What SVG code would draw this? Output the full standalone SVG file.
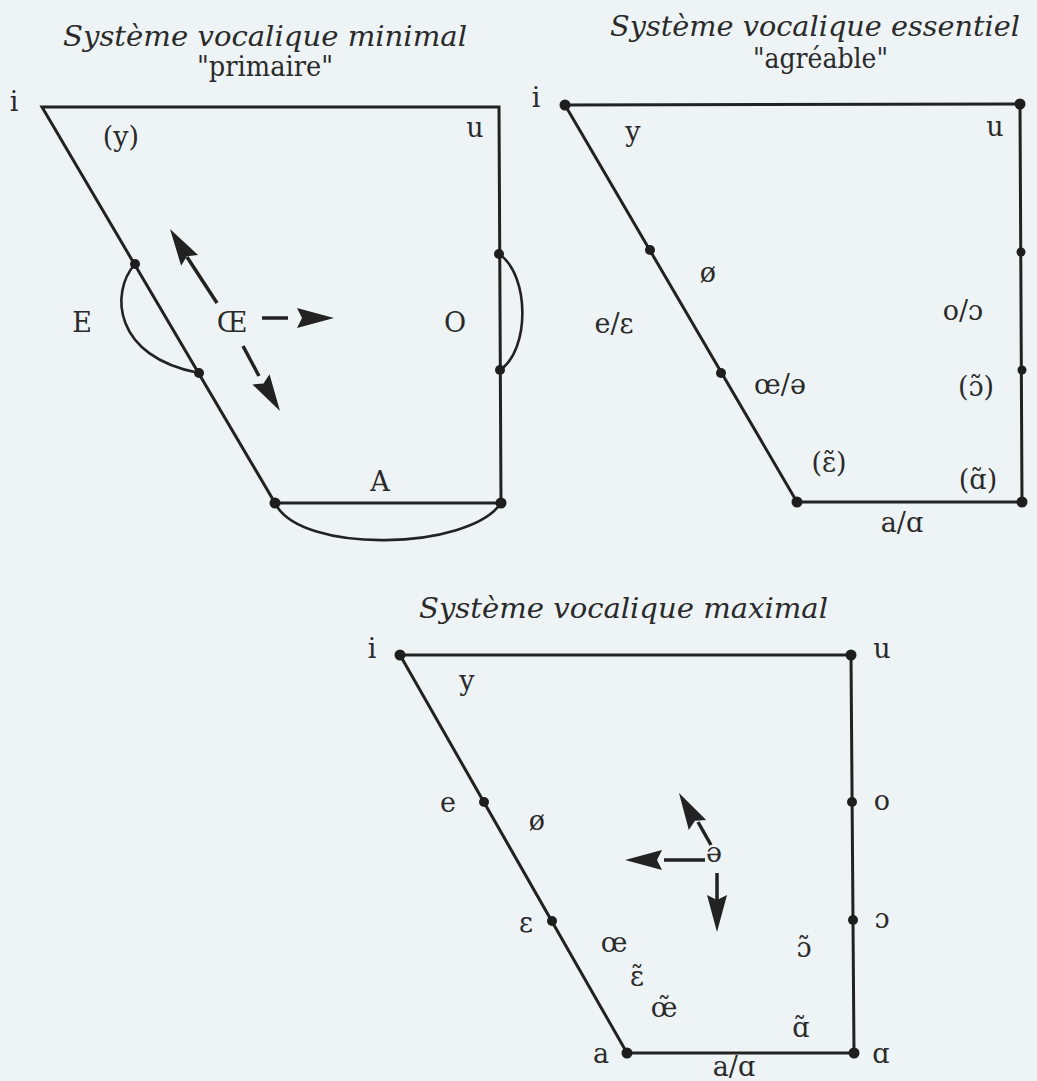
<svg xmlns="http://www.w3.org/2000/svg" width="1037" height="1081" viewBox="0 0 1037 1081">
<style>
.bg{fill:#eef4f5}
.frame{fill:none;stroke:#222;stroke-width:3;stroke-linejoin:miter;stroke-miterlimit:10}
.arc{fill:none;stroke:#222;stroke-width:2.6}
.dot{fill:#1e1e1e}
.lab{font-family:"DejaVu Serif","Liberation Serif",serif;font-size:27px;fill:#2a2a2a;text-anchor:middle}
.title{font-family:"DejaVu Serif","Liberation Serif",serif;font-style:italic;font-size:27px;fill:#2a2a2a}
.sub{font-family:"DejaVu Serif","Liberation Serif",serif;font-size:27px;fill:#2a2a2a}
.shaft{stroke:#222;stroke-width:3.5;fill:none}
.head{fill:#222}
</style>
<defs>
<path id="ah" d="M0,0 L-37,-10 L-32,0 L-37,10 Z"/>
</defs>
<rect class="bg" x="0" y="0" width="1037" height="1081"/>

<g id="minimal">
  <text class="title" x="63" y="46" textLength="404" lengthAdjust="spacingAndGlyphs">Système vocalique minimal</text>
  <text class="sub" x="197" y="76" textLength="136" lengthAdjust="spacingAndGlyphs">"primaire"</text>
  <path class="frame" d="M42,107 L499,107 L501,503 L275,503 Z"/>
  <path class="arc" d="M135,264 C110,292 113,357 199,373"/>
  <path class="arc" d="M499,254 C530,275 530,350 500,370"/>
  <path class="arc" d="M275,503 C300,555 470,550 501,503"/>
  <g id="m-dots">
    <circle class="dot" cx="135" cy="264" r="5"/>
    <circle class="dot" cx="199" cy="373" r="5"/>
    <circle class="dot" cx="499" cy="254" r="5"/>
    <circle class="dot" cx="500" cy="370" r="5"/>
    <circle class="dot" cx="275" cy="503" r="5.5"/>
    <circle class="dot" cx="501" cy="503" r="5.5"/>
  </g>
  <g id="m-i"><text class="lab" x="14" y="111">i</text></g>
  <g id="m-y"><text class="lab" x="121" y="146">(y)</text></g>
  <g id="m-u"><text class="lab" x="475" y="137">u</text></g>
  <g id="m-E"><text class="lab" x="82" y="332">E</text></g>
  <g id="m-OE"><text class="lab" x="232" y="332">Œ</text></g>
  <g id="m-O"><text class="lab" x="455" y="332">O</text></g>
  <g id="m-A"><text class="lab" x="380" y="491">A</text></g>
</g>

<g id="essentiel">
  <text class="title" x="610" y="36" textLength="410" lengthAdjust="spacingAndGlyphs">Système vocalique essentiel</text>
  <text class="sub" x="753" y="68" textLength="135" lengthAdjust="spacingAndGlyphs">"agréable"</text>
  <path class="frame" d="M565,105 L1020,104 L1022,502 L797,502 Z"/>
  <g id="e-dots">
    <circle class="dot" cx="565" cy="105" r="5.5"/>
    <circle class="dot" cx="1020" cy="104" r="5.5"/>
    <circle class="dot" cx="1021" cy="252" r="4.5"/>
    <circle class="dot" cx="1022" cy="370" r="4.5"/>
    <circle class="dot" cx="1022" cy="502" r="5.5"/>
    <circle class="dot" cx="797" cy="502" r="5.5"/>
    <circle class="dot" cx="650" cy="250" r="5"/>
    <circle class="dot" cx="721" cy="373" r="5"/>
  </g>
  <g id="e-i"><text class="lab" x="536" y="107">i</text></g>
  <g id="e-y"><text class="lab" x="633" y="141">y</text></g>
  <g id="e-u"><text class="lab" x="995" y="136">u</text></g>
  <g id="e-oslash"><text class="lab" x="708" y="282">ø</text></g>
  <g id="e-e"><text class="lab" x="614" y="333">e/ε</text></g>
  <g id="e-o"><text class="lab" x="963" y="320">o/ɔ</text></g>
  <g id="e-oe"><text class="lab" x="780" y="394">œ/ə</text></g>
  <g id="e-on"><text class="lab" x="976" y="396">(ɔ̃)</text></g>
  <g id="e-en"><text class="lab" x="829" y="472">(ɛ̃)</text></g>
  <g id="e-an"><text class="lab" x="978" y="489">(ɑ̃)</text></g>
  <g id="e-a"><text class="lab" x="902" y="532">a/ɑ</text></g>
</g>

<g id="maximal">
  <text class="title" x="419" y="618" textLength="409" lengthAdjust="spacingAndGlyphs">Système vocalique maximal</text>
  <path class="frame" d="M400,655 L851,655 L854,1053 L627,1053 Z"/>
  <g id="x-dots">
    <circle class="dot" cx="400" cy="655" r="5.5"/>
    <circle class="dot" cx="851" cy="655" r="5.5"/>
    <circle class="dot" cx="852" cy="802" r="5"/>
    <circle class="dot" cx="853" cy="920" r="5"/>
    <circle class="dot" cx="854" cy="1053" r="5.5"/>
    <circle class="dot" cx="627" cy="1053" r="5.5"/>
    <circle class="dot" cx="484" cy="802" r="5"/>
    <circle class="dot" cx="552" cy="921" r="5"/>
  </g>
  <g id="x-i"><text class="lab" x="372" y="658">i</text></g>
  <g id="x-u"><text class="lab" x="882" y="658">u</text></g>
  <g id="x-y"><text class="lab" x="467" y="690">y</text></g>
  <g id="x-e"><text class="lab" x="448" y="812">e</text></g>
  <g id="x-oslash"><text class="lab" x="537" y="830">ø</text></g>
  <g id="x-o"><text class="lab" x="882" y="810">o</text></g>
  <g id="x-schwa"><text class="lab" x="714" y="862">ə</text></g>
  <g id="x-eps"><text class="lab" x="526" y="932">ε</text></g>
  <g id="x-oe"><text class="lab" x="614" y="952">œ</text></g>
  <g id="x-en"><text class="lab" x="637" y="986">ɛ̃</text></g>
  <g id="x-oen"><text class="lab" x="664" y="1017">œ̃</text></g>
  <g id="x-on"><text class="lab" x="804" y="957">ɔ̃</text></g>
  <g id="x-openo"><text class="lab" x="882" y="928">ɔ</text></g>
  <g id="x-an"><text class="lab" x="801" y="1037">ɑ̃</text></g>
  <g id="x-a"><text class="lab" x="601" y="1063">a</text></g>
  <g id="x-alpha"><text class="lab" x="881" y="1063">ɑ</text></g>
  <g id="x-aa"><text class="lab" x="734" y="1076">a/ɑ</text></g>
</g>

<g id="connectors">
  <line class="shaft" x1="262" y1="318" x2="288" y2="318"/>
  <use href="#ah" class="head" transform="translate(334,318)"/>
  <line class="shaft" x1="217" y1="303" x2="187" y2="257"/>
  <use href="#ah" class="head" transform="translate(170,229) rotate(-122)"/>
  <line class="shaft" x1="243" y1="346" x2="259" y2="376"/>
  <use href="#ah" class="head" transform="translate(280,411) rotate(59)"/>
  <line class="shaft" x1="705" y1="860" x2="664" y2="860"/>
  <use href="#ah" class="head" transform="translate(625,860) rotate(180)"/>
  <line class="shaft" x1="711" y1="845" x2="698" y2="822"/>
  <use href="#ah" class="head" transform="translate(679,793) rotate(-120)"/>
  <line class="shaft" x1="717" y1="873" x2="717" y2="900"/>
  <use href="#ah" class="head" transform="translate(717,932) rotate(90)"/>
</g>
</svg>
